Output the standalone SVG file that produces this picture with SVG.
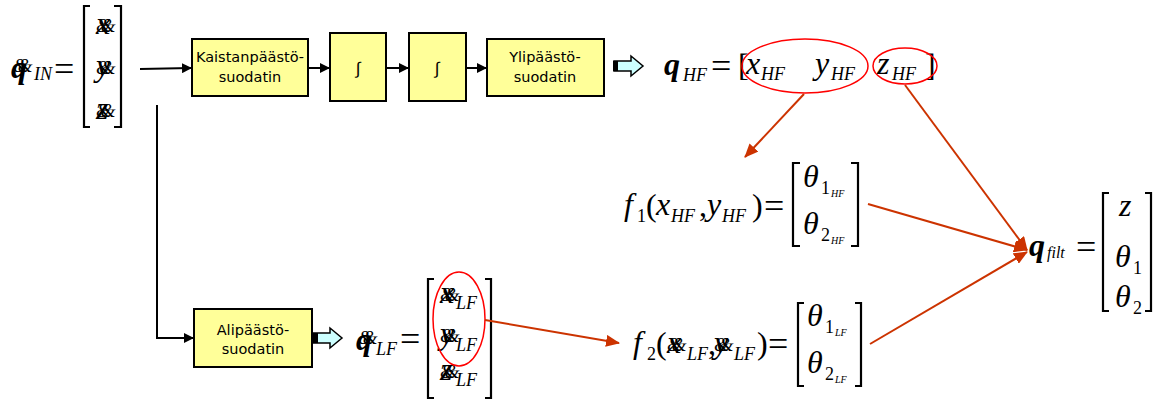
<svg xmlns="http://www.w3.org/2000/svg" width="1162" height="401" viewBox="0 0 1162 401">
<style>
.box{fill:#FFFF99;stroke:#000;stroke-width:2}
.bt{font-family:"DejaVu Sans",Verdana,sans-serif;font-size:14.5px;fill:#000;text-anchor:middle}
.it{font-family:"Liberation Sans",Arial,sans-serif;font-size:17px;fill:#000000;text-anchor:middle}
.eq{font-family:"Liberation Serif","Times New Roman",serif;font-size:32px;fill:#000}
.m{font-style:italic}
.b{font-style:italic;font-weight:bold}
.e{font-size:36px}
.s{font-style:italic;font-size:18px}
.sr{font-size:18px}
.ss{font-style:italic;font-size:10px}
.amp{font-style:italic;font-size:19px;letter-spacing:-10px}
.br{fill:none;stroke:#000;stroke-width:2.2}
.k{fill:none;stroke:#000;stroke-width:2}
.red{fill:none;stroke:#CC3300;stroke-width:2}
.ell{fill:none;stroke:#FF0000;stroke-width:1.5}
.blk{fill:#CCFFFF;stroke:#000;stroke-width:1.5}
</style>
<defs>
<marker id="ah" markerWidth="10" markerHeight="10" refX="9" refY="5" orient="auto" markerUnits="userSpaceOnUse"><path d="M0,0 L10,5 L0,10 Z" fill="#000"/></marker>
<marker id="rh" markerWidth="14" markerHeight="12" refX="13" refY="6" orient="auto" markerUnits="userSpaceOnUse"><path d="M0,0 L14,6 L0,12 Z" fill="#CC3300"/></marker>
</defs>

<g id="q_in">
<text class="eq"><tspan class="b" x="11" y="78">q</tspan><tspan class="amp" x="13" y="72">&amp;&amp;</tspan><tspan class="s" x="34" y="80">IN</tspan><tspan class="e" x="54" y="81">=</tspan><tspan class="m" x="96" y="34">x</tspan><tspan class="amp" x="96" y="32">&amp;&amp;</tspan><tspan class="m" x="96" y="76">y</tspan><tspan class="amp" x="96" y="74">&amp;&amp;</tspan><tspan class="m" x="96" y="119">z</tspan><tspan class="amp" x="96" y="117">&amp;&amp;</tspan></text>
<path class="br" d="M90,6 H84 V127 H90"/>
<path class="br" d="M114,6 H121 V127 H114"/>
</g>

<g id="kaistanpaasto">
<rect class="box" x="192" y="39" width="116" height="57"/>
<text class="bt" x="250" y="62">Kaistanpäästö-</text>
<text class="bt" x="250" y="82">suodatin</text>
</g>
<g id="int1">
<rect class="box" x="330" y="33" width="56" height="68"/>
<text class="it" x="358" y="74">∫</text>
</g>
<g id="int2">
<rect class="box" x="409" y="33" width="57" height="68"/>
<text class="it" x="437" y="74">∫</text>
</g>
<g id="ylipaasto">
<rect class="box" x="487" y="39" width="117" height="57"/>
<text class="bt" x="545" y="62">Ylipäästö-</text>
<text class="bt" x="545" y="82">suodatin</text>
</g>
<g id="alipaasto">
<rect class="box" x="194" y="309" width="118" height="58"/>
<text class="bt" x="253" y="335">Alipäästö-</text>
<text class="bt" x="253" y="354">suodatin</text>
</g>

<g id="q_hf">
<text class="eq"><tspan class="b" x="664" y="75">q</tspan><tspan class="s" x="683" y="81">HF</tspan><tspan class="e" x="711" y="78">=</tspan><tspan x="738" y="76">[</tspan><tspan class="m" x="746" y="74">x</tspan><tspan class="s" x="761" y="80">HF</tspan><tspan class="m" x="815" y="74">y</tspan><tspan class="s" x="831" y="80">HF</tspan><tspan class="m" x="877" y="74">z</tspan><tspan class="s" x="892" y="80">HF</tspan><tspan x="925" y="76">]</tspan></text>
<ellipse class="ell" cx="805" cy="66" rx="63" ry="27"/>
<ellipse class="ell" cx="905" cy="66" rx="32" ry="18"/>
</g>

<g id="f1">
<text class="eq"><tspan class="m" x="624" y="215">f</tspan><tspan class="sr" x="637" y="222">1</tspan><tspan x="646" y="216">(</tspan><tspan class="m" x="656" y="215">x</tspan><tspan class="s" x="671" y="222">HF</tspan><tspan x="699" y="216">,</tspan><tspan class="m" x="707" y="215">y</tspan><tspan class="s" x="722" y="222">HF</tspan><tspan x="752" y="216">)</tspan><tspan class="e" x="764" y="218">=</tspan><tspan class="m" x="803" y="187">θ</tspan><tspan class="sr" x="821" y="194">1</tspan><tspan class="ss" x="831" y="197">HF</tspan><tspan class="m" x="803" y="234">θ</tspan><tspan class="sr" x="821" y="241">2</tspan><tspan class="ss" x="831" y="244">HF</tspan></text>
<path class="br" d="M800,163 H793 V246 H800"/>
<path class="br" d="M851,163 H858 V246 H851"/>
</g>

<g id="q_filt">
<text class="eq"><tspan class="b" x="1029" y="256">q</tspan><tspan class="s" x="1047" y="258" style="font-size:16px">filt</tspan><tspan class="e" x="1076" y="259">=</tspan><tspan class="m" x="1119" y="216">z</tspan><tspan class="m" x="1115" y="267">θ</tspan><tspan class="sr" x="1133" y="274">1</tspan><tspan class="m" x="1115" y="307">θ</tspan><tspan class="sr" x="1133" y="314">2</tspan></text>
<path class="br" d="M1109,193 H1103 V311 H1109"/>
<path class="br" d="M1145,193 H1151 V311 H1145"/>
</g>

<g id="q_lf">
<text class="eq"><tspan class="b" x="356" y="350">q</tspan><tspan class="amp" x="358" y="344">&amp;&amp;</tspan><tspan class="s" x="376" y="355">LF</tspan><tspan class="e" x="400" y="351">=</tspan><tspan class="m" x="440" y="303">x</tspan><tspan class="amp" x="440" y="301">&amp;&amp;</tspan><tspan class="s" x="456" y="309">LF</tspan><tspan class="m" x="440" y="344">y</tspan><tspan class="amp" x="440" y="342">&amp;&amp;</tspan><tspan class="s" x="456" y="351">LF</tspan><tspan class="m" x="440" y="380">z</tspan><tspan class="amp" x="440" y="378">&amp;&amp;</tspan><tspan class="s" x="456" y="386">LF</tspan></text>
<path class="br" d="M434,279 H428 V398 H434"/>
<path class="br" d="M485,279 H491 V398 H485"/>
<ellipse class="ell" cx="459" cy="319" rx="26" ry="47"/>
</g>

<g id="f2">
<text class="eq"><tspan class="m" x="633" y="353">f</tspan><tspan class="sr" x="647" y="360">2</tspan><tspan x="656" y="354">(</tspan><tspan class="m" x="667" y="353">x</tspan><tspan class="amp" x="667" y="351">&amp;&amp;</tspan><tspan class="s" x="687" y="360">LF</tspan><tspan x="708" y="354">,</tspan><tspan class="m" x="714" y="353">y</tspan><tspan class="amp" x="714" y="351">&amp;&amp;</tspan><tspan class="s" x="734" y="360">LF</tspan><tspan x="757" y="354">)</tspan><tspan class="e" x="768" y="356">=</tspan><tspan class="m" x="807" y="326">θ</tspan><tspan class="sr" x="825" y="333">1</tspan><tspan class="ss" x="835" y="336">LF</tspan><tspan class="m" x="807" y="373">θ</tspan><tspan class="sr" x="825" y="380">2</tspan><tspan class="ss" x="835" y="383">LF</tspan></text>
<path class="br" d="M804,303 H798 V386 H804"/>
<path class="br" d="M855,303 H861 V386 H855"/>
</g>

<g id="connectors">
<path class="k" d="M140,69 L191,68" marker-end="url(#ah)"/>
<path class="k" d="M308,68 L329,68" marker-end="url(#ah)"/>
<path class="k" d="M386,68 L408,68" marker-end="url(#ah)"/>
<path class="k" d="M466,68 L486,68" marker-end="url(#ah)"/>
<path class="k" d="M157,105 V338 H193" marker-end="url(#ah)"/>
<path class="blk" d="M614,61 H631 V56 L643,66 L631,76 V71 H614 Z"/>
<rect x="613" y="61" width="5" height="10" fill="#000"/>
<path class="blk" d="M313,333 H330 V328 L342,338 L330,348 V343 H313 Z"/>
<rect x="312" y="333" width="6" height="10" fill="#000"/>
<path class="red" d="M804,94 L745,157" marker-end="url(#rh)"/>
<path class="red" d="M905,85 L1027,250" marker-end="url(#rh)"/>
<path class="red" d="M868,204 L1027,250" marker-end="url(#rh)"/>
<path class="red" d="M870,344 L1027,252" marker-end="url(#rh)"/>
<path class="red" d="M485,320 L619,343" marker-end="url(#rh)"/>
</g>
</svg>
